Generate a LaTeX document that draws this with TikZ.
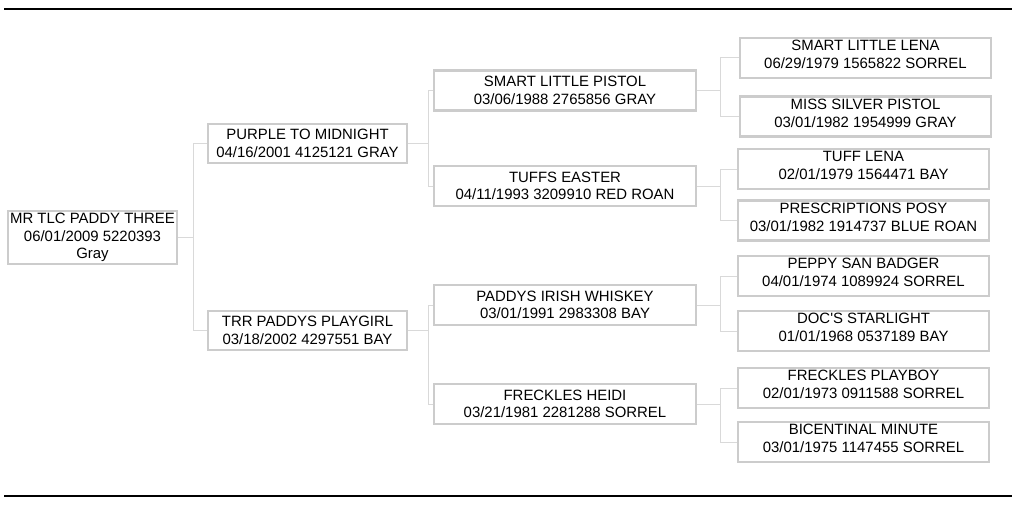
\documentclass[tikz,border=0pt]{standalone}
\usepackage{fontspec}
\newfontfamily\horsefont{Liberation Sans}
\usetikzlibrary{positioning}

\begin{document}
\begin{tikzpicture}[x=0.75pt, y=-0.75pt,
    every node/.style={rectangle, draw=black!20, line width=1.8pt, align=center, inner sep=0pt,
      font=\horsefont\fontsize{11.2pt}{13.2pt}\selectfont},
    gen0/.style={minimum width=126.75pt, minimum height=39.75pt},
    gen1/.style={minimum width=149.25pt, minimum height=29.25pt},
    gen2/.style={minimum width=196.5pt, minimum height=30pt},
    gen3/.style={minimum width=188.25pt, minimum height=30pt},
    link/.style={draw=black!15, line width=0.75pt}]
    \useasboundingbox (0,0) rectangle (1024,510);
    % top and bottom rules
    \draw[line width=2.2pt] (4,9) -- (1012,9);
    \draw[line width=2.2pt] (4,496) -- (1012,496);

    % horse
    \node[gen0] (horse) at (92.5,237.5) {MR TLC PADDY THREE\\06/01/2009 5220393\\Gray};
    % parents
    \node[gen1] (sire) at (307.5,143.5) {PURPLE TO MIDNIGHT\\04/16/2001 4125121 GRAY};
    \node[gen1] (dam) at (307.5,330.5) {TRR PADDYS PLAYGIRL\\03/18/2002 4297551 BAY};
    % grandparents
    \node[gen2] (ss) at (565,90.5) {SMART LITTLE PISTOL\\03/06/1988 2765856 GRAY};
    \node[gen2] (sd) at (565,186) {TUFFS EASTER\\04/11/1993 3209910 RED ROAN};
    \node[gen2] (ds) at (565,305) {PADDYS IRISH WHISKEY\\03/01/1991 2983308 BAY};
    \node[gen2] (dd) at (565,404) {FRECKLES HEIDI\\03/21/1981 2281288 SORREL};
    % great grandparents (text sits high in the box)
    \node[gen3] (sss) at (865.5,58) {SMART LITTLE LENA\\06/29/1979 1565822 SORREL\\[-8pt]\mbox{}};
    \node[gen3] (ssd) at (865.5,116.5) {MISS SILVER PISTOL\\03/01/1982 1954999 GRAY\\[-8pt]\mbox{}};
    \node[gen3] (sds) at (863.5,169) {TUFF LENA\\02/01/1979 1564471 BAY\\[-8pt]\mbox{}};
    \node[gen3] (sdd) at (863.5,220.5) {PRESCRIPTIONS POSY\\03/01/1982 1914737 BLUE ROAN\\[-8pt]\mbox{}};
    \node[gen3] (dss) at (863.5,276) {PEPPY SAN BADGER\\04/01/1974 1089924 SORREL\\[-8pt]\mbox{}};
    \node[gen3] (dsd) at (863.5,331) {DOC'S STARLIGHT\\01/01/1968 0537189 BAY\\[-8pt]\mbox{}};
    \node[gen3] (dds) at (863.5,388) {FRECKLES PLAYBOY\\02/01/1973 0911588 SORREL\\[-8pt]\mbox{}};
    \node[gen3] (ddd) at (863.5,442) {BICENTINAL MINUTE\\03/01/1975 1147455 SORREL\\[-8pt]\mbox{}};

    % elbow links
    \foreach \a/\b in {horse/sire, horse/dam} {
        \draw[link] (\a.east) -- ++(15,0) |- (\b.west);
    }
    \foreach \a/\b in {sire/ss, sire/sd, dam/ds, dam/dd} {
        \draw[link] (\a.east) -- ++(20,0) |- (\b.west);
    }
    \foreach \a/\b in {ss/sss, ss/ssd, sd/sds, sd/sdd, ds/dss, ds/dsd, dd/dds, dd/ddd} {
        \draw[link] (\a.east) -- ++(23,0) |- (\b.west);
    }
\end{tikzpicture}
\end{document}
